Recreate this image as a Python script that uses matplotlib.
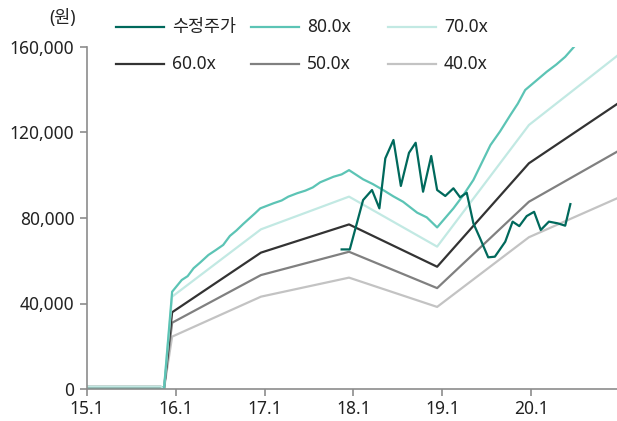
import numpy as np
import matplotlib
matplotlib.use("Agg")
import matplotlib.pyplot as plt
from matplotlib.lines import Line2D
from matplotlib.ticker import FuncFormatter

plt.rcParams['font.family'] = ['Noto Sans', 'Noto Sans CJK KR', 'DejaVu Sans']

# x values are months counted from 2015-01
band_months = [0, 10, 10.4, 11.5, 23.5, 35.4, 47.3, 59.7, 71.6]
band_70 = [1100, 1100, 0, 43200, 74700, 90000, 66600, 123500, 155800]
band_60 = [1000, 1000, 0, 35900, 63800, 77000, 57200, 105600, 133300]
band_50 = [900, 900, 0, 31000, 53300, 64200, 47200, 87600, 111000]
band_40 = [800, 800, 0, 24500, 43200, 52100, 38400, 71000, 89200]

band80_months = [0, 10, 10.4, 11.5, 12.8, 13.6, 14.4, 15.3, 16.4, 17.4, 18.4, 19.3, 20.2,
                 21.1, 22.7, 23.4, 25.2, 26.3, 27.2, 28.4, 29.5, 30.5, 31.5, 33.3, 34.4,
                 35.4, 37.3, 38.6, 40.0, 41.4, 42.7, 44.6, 45.9, 47.3, 49.5, 50.8, 52.2,
                 53.3, 54.5, 55.8, 57.2, 58.2, 59.2, 60.6, 62.1, 63.4, 64.6, 65.9, 67.5]
band_80 = [0, 0, 0, 45500, 51000, 52800, 56500, 59200, 62700, 65000, 67400, 71600, 74200,
           77200, 82200, 84500, 86900, 88200, 90000, 91600, 92800, 94300, 96700, 99300, 100400,
           102400, 98100, 95900, 93100, 90100, 87600, 82500, 80300, 75600, 84500, 90500, 97800,
           105600, 114100, 120500, 128200, 133500, 139900, 144000, 148400, 151800, 155400, 160500, 166000]

price_months = [34.4, 35.5, 37.3, 38.5, 39.5, 40.3, 41.4, 42.4, 43.5, 44.4, 45.4, 46.5, 47.3,
                48.4, 49.5, 50.4, 51.3, 52.2, 53.1, 54.2, 55.1, 56.5, 57.5, 58.4, 59.4, 60.4,
                61.3, 62.4, 63.6, 64.6, 65.3]
price = [65300, 65300, 88400, 93100, 84500, 107900, 116500, 95000, 110500, 115200, 92300,
         109000, 93100, 90300, 93900, 89700, 91800, 77500, 70500, 61600, 61900, 68900, 78300,
         76200, 80900, 82900, 74400, 78300, 77500, 76400, 86500]

tick_months = [0, 12, 24, 36, 48, 60]
tick_labels = ['15.1', '16.1', '17.1', '18.1', '19.1', '20.1']

c_price = '#00695c'
c80 = '#5cc4b5'
c70 = '#c2e9e3'
c60 = '#333333'
c50 = '#808080'
c40 = '#c3c3c3'

fig = plt.figure(figsize=(6.17, 4.21), dpi=100)
ax = fig.add_axes([87 / 617, 32 / 421, 530 / 617, 342 / 421])

lw = 1.6
ax.plot(band_months, band_40, color=c40, lw=lw)
ax.plot(band_months, band_50, color=c50, lw=lw)
ax.plot(band_months, band_60, color=c60, lw=lw)
ax.plot(band_months, band_70, color=c70, lw=lw)
ax.plot(band80_months, band_80, color=c80, lw=lw)
ax.plot(price_months, price, color=c_price, lw=lw)

ax.set_xlim(0, 71.6)
ax.set_ylim(0, 160000)
ax.set_yticks([0, 40000, 80000, 120000, 160000])
ax.yaxis.set_major_formatter(FuncFormatter(lambda v, p: f'{int(v):,}'))
ax.set_xticks(tick_months)
ax.set_xticklabels(tick_labels)

for s in ['top', 'right']:
    ax.spines[s].set_visible(False)
for s in ['left', 'bottom']:
    ax.spines[s].set_color('#8c8c8c')
    ax.spines[s].set_linewidth(1.2)
ax.tick_params(axis='both', colors='#8c8c8c', length=5, width=1.2, labelsize=12.5,
               labelcolor='#222222')
ax.tick_params(axis='x', pad=3)
ax.tick_params(axis='y', pad=4)

fig.text(62 / 617, 1 - 18 / 421, '(원)', fontsize=12.5, color='#222222', ha='center', va='center')

# legend, 2 rows x 3 columns
entries = [('수정주가', c_price, 116, 27), ('80.0x', c80, 251, 27), ('70.0x', c70, 388, 27),
           ('60.0x', c60, 116, 64), ('50.0x', c50, 251, 64), ('40.0x', c40, 388, 64)]
for name, col, x0, y0 in entries:
    fig.add_artist(Line2D([x0 / 617, (x0 + 48) / 617], [1 - y0 / 421, 1 - y0 / 421],
                          color=col, lw=lw))
    fig.text((x0 + 56) / 617, 1 - y0 / 421, name, fontsize=12.5, color='#222222',
             ha='left', va='center')

fig.savefig('out.png', dpi=100)
